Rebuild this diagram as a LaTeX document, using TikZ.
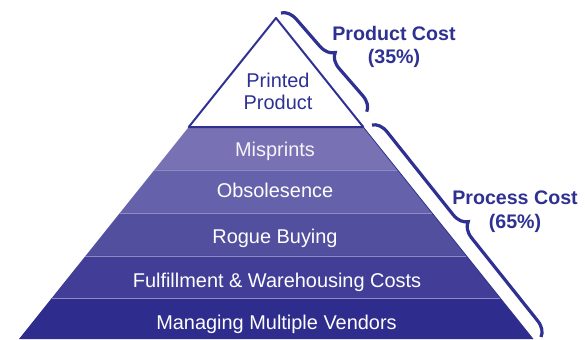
\documentclass[tikz,border=0pt]{standalone}
\usepackage{fontspec}
\setmainfont{Liberation Sans}
\usetikzlibrary{calc,decorations.pathreplacing}

\definecolor{costblue}{HTML}{2E3192}
\definecolor{bandA}{HTML}{7872B4}
\definecolor{bandB}{HTML}{6561AA}
\definecolor{bandC}{HTML}{534F9F}
\definecolor{bandD}{HTML}{423E97}
\definecolor{bandE}{HTML}{2E2C8D}
\definecolor{sepline}{HTML}{8E8AC2}

\begin{document}
\begin{tikzpicture}[x=1bp, y=1bp,
		band_text/.style={text=white, anchor=base, font=\fontsize{20}{22}\selectfont},
		cost_text/.style={text=costblue, align=center, font=\fontsize{19.7}{23.5}\selectfont\bfseries},
		sep_style/.style={draw=sepline, line width=0.8bp},
		brace_style/.style={draw=costblue, line width=3.2bp, decorate, decoration={brace, amplitude=15bp}}]
		
		\useasboundingbox (0,0) rectangle (585,339);
		
		% pyramid corners
		\coordinate (top) at (276,321);
		\coordinate (bl) at (19,0);
		\coordinate (br) at (533,0);
		
		% band edges
		\coordinate (l1) at ($(top)!0.3396!(bl)$);  \coordinate (r1) at ($(top)!0.3396!(br)$);
		\coordinate (l2) at ($(top)!0.4735!(bl)$);  \coordinate (r2) at ($(top)!0.4735!(br)$);
		\coordinate (l3) at ($(top)!0.6075!(bl)$);  \coordinate (r3) at ($(top)!0.6075!(br)$);
		\coordinate (l4) at ($(top)!0.7414!(bl)$);  \coordinate (r4) at ($(top)!0.7414!(br)$);
		\coordinate (l5) at ($(top)!0.8723!(bl)$);  \coordinate (r5) at ($(top)!0.8723!(br)$);
		
		\fill[bandA] (l1) -- (r1) -- (r2) -- (l2) -- cycle;
		\fill[bandB] (l2) -- (r2) -- (r3) -- (l3) -- cycle;
		\fill[bandC] (l3) -- (r3) -- (r4) -- (l4) -- cycle;
		\fill[bandD] (l4) -- (r4) -- (r5) -- (l5) -- cycle;
		\fill[bandE] (l5) -- (r5) -- (br) -- (bl) -- cycle;
		
		\draw[sep_style] (l2) -- (r2);
		\draw[sep_style] (l3) -- (r3);
		\draw[sep_style] (l4) -- (r4);
		\draw[sep_style] (l5) -- (r5);
		\draw[costblue, line width=0.8bp] (r1) -- (br);
		
		% top of the pyramid
		\draw[costblue, fill=white, line width=2bp, line join=round] (top) -- (r1) -- (l1) -- cycle;
		\draw[costblue, line width=2.8bp] (l1) -- (r1);
		
		\node[text=costblue, align=center, font=\fontsize{20}{22}\selectfont] (printed) at (278,248) {Printed\\Product};
		
		\node[band_text, text=white!92!bandA] (misprints) at (275,183) {Misprints};
		\node[band_text] (obsolesence) at (275,142) {Obsolesence};
		\node[band_text] (rogue) at (275,96) {Rogue Buying};
		\node[band_text] (fulfillment) at (277,52) {Fulfillment \& Warehousing Costs};
		\node[band_text] (vendors) at (276.5,10) {Managing Multiple Vendors};
		
		% braces
		\coordinate (pb1) at (281,326);
		\coordinate (pb2) at (367,227);
		\coordinate (qb1) at (372,214);
		\coordinate (qb2) at (541,2);
		\draw[brace_style] (pb1) -- (pb2);
		\draw[brace_style] (qb1) -- (qb2);
		
		\node[cost_text] (productcost) at (394,292) {Product Cost\\(35\%)};
		\node[cost_text] (processcost) at (515,127.5) {Process Cost\\(65\%)};
		
\end{tikzpicture}
\end{document}
